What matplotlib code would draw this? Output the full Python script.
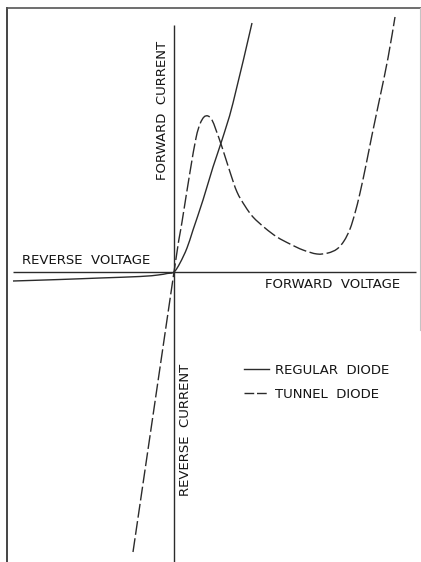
import matplotlib
matplotlib.use("Agg")
import matplotlib.pyplot as plt
from matplotlib.lines import Line2D
from matplotlib.path import Path
from matplotlib.patches import PathPatch

# Characteristic curves (voltage in arbitrary units, current in arbitrary units)
regular_v = [-1.61, -1.14, -0.74, -0.34, -0.16, -0.07, 0.0, 0.06, 0.13, 0.19,
             0.29, 0.39, 0.48, 0.59, 0.78]
regular_i = [-0.9, -0.75, -0.6, -0.45, -0.3, -0.15, 0.0, 0.9, 2.4, 4.2,
             7.2, 10.5, 13.2, 16.9, 24.9]

tunnel_v = [-0.41, 0.0, 0.08, 0.16, 0.22, 0.26, 0.30, 0.34, 0.38, 0.42, 0.48,
            0.56, 0.63, 0.71, 0.79, 0.91, 1.03, 1.16, 1.29, 1.43, 1.54, 1.63,
            1.70, 1.76, 1.81, 1.86, 1.92, 1.98, 2.06, 2.14, 2.21]
tunnel_i = [-28.0, 0.0, 5.0, 10.0, 13.4, 14.8, 15.5, 15.6, 15.2, 14.2, 12.5,
            10.0, 8.0, 6.6, 5.5, 4.4, 3.5, 2.8, 2.2, 1.8, 1.9, 2.3,
            3.1, 4.3, 5.9, 7.9, 10.7, 13.7, 17.5, 21.4, 25.5]

axis_v = [-1.61, 2.42]     # extent of the voltage axis
axis_i = [-29.0, 24.7]     # extent of the current axis

labels = {
    "rev_v": "REVERSE  VOLTAGE",
    "fwd_v": "FORWARD  VOLTAGE",
    "fwd_i": "FORWARD  CURRENT",
    "rev_i": "REVERSE  CURRENT",
}
legend_labels = ["REGULAR  DIODE", "TUNNEL  DIODE"]

W, H = 421, 562
ink = "#2b2b2b"
tunnel_dash = (10, 2.5)


def smooth_path(xs, ys, keep_straight=()):
    """Catmull-Rom spline through the points, expressed as cubic Bezier segments."""
    pts = list(zip(xs, ys))
    n = len(pts)
    verts = [pts[0]]
    codes = [Path.MOVETO]
    for k in range(n - 1):
        p0 = pts[k - 1] if k > 0 else pts[k]
        p1, p2 = pts[k], pts[k + 1]
        p3 = pts[k + 2] if k + 2 < n else pts[k + 1]
        if k in keep_straight:
            verts.append(p2)
            codes.append(Path.LINETO)
            continue
        c1 = (p1[0] + (p2[0] - p0[0]) / 6, p1[1] + (p2[1] - p0[1]) / 6)
        c2 = (p2[0] - (p3[0] - p1[0]) / 6, p2[1] - (p3[1] - p1[1]) / 6)
        verts += [c1, c2, p2]
        codes += [Path.CURVE4] * 3
    return Path(verts, codes)


fig = plt.figure(figsize=(W / 100, H / 100), dpi=100)
fig.patch.set_facecolor("white")
ax = fig.add_axes([0, 0, 1, 1])
ax.set_xlim(-1.74, 2.47)
ax.set_ylim(-29.0, 27.2)
ax.axis("off")

# outer frame (left, top, right)
fig.add_artist(Line2D([7 / W, 7 / W], [0, 1 - 8 / H], color="#444444", lw=1.4))
fig.add_artist(Line2D([7 / W, 1], [1 - 8 / H, 1 - 8 / H], color="#555555", lw=1.2))
fig.add_artist(Line2D([420 / W, 420 / W], [1 - 8 / H, 1 - 330 / H], color="#c4c4c4", lw=0.8))

# coordinate axes
ax.hlines(0, axis_v[0], axis_v[1], color=ink, lw=1.0)
ax.vlines(0, axis_i[0], axis_i[1], color=ink, lw=1.0)

ax.add_patch(PathPatch(smooth_path(regular_v, regular_i), fill=False,
                       edgecolor=ink, lw=1.0))
ax.add_patch(PathPatch(smooth_path(tunnel_v, tunnel_i, keep_straight=(0,)),
                       fill=False, edgecolor=ink, lw=1.0,
                       linestyle=(0, tunnel_dash)))

fs = 9.5
font = dict(family="DejaVu Sans", fontsize=fs, color="#151515")
ax.text(-1.52, 1.2, labels["rev_v"], ha="left", va="center", **font)
ax.text(0.91, -1.3, labels["fwd_v"], ha="left", va="center", **font)
ax.text(-0.12, 16.2, labels["fwd_i"], ha="center", va="center", rotation=90, **font)
ax.text(0.11, -15.8, labels["rev_i"], ha="center", va="center", rotation=90, **font)

handles = [Line2D([], [], color=ink, lw=1.0),
           Line2D([], [], color=ink, lw=1.0, dashes=(7, 2))]
leg = ax.legend(handles, legend_labels, loc="upper left",
                bbox_to_anchor=(244 / W, 1 - 364 / H),
                frameon=False, prop=dict(family="DejaVu Sans", size=fs),
                handlelength=1.9, handletextpad=0.45, labelspacing=0.8,
                borderaxespad=0, borderpad=0)
for t in leg.get_texts():
    t.set_color("#151515")

fig.savefig("out.png", dpi=100, facecolor="white")
